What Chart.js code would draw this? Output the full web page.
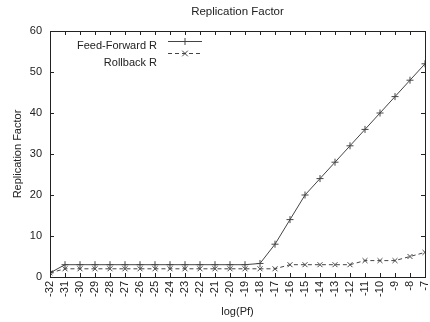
<!DOCTYPE html>
<html>
<head>
<meta charset="utf-8">
<script src="https://cdn.jsdelivr.net/npm/chart.js@4.4.0/dist/chart.umd.min.js"></script>
<style>
  html, body { margin: 0; padding: 0; background: #fff; }
  #wrap { width: 430px; height: 322px; }
</style>
</head>
<body>
<div id="wrap"><canvas id="replicationChart"></canvas></div>
<script>
// values
const logPf = [-32, -31, -30, -29, -28, -27, -26, -25, -24, -23, -22, -21, -20, -19,
               -18, -17, -16, -15, -14, -13, -12, -11, -10, -9, -8, -7];
const feedForwardR = [1, 3, 3, 3, 3, 3, 3, 3, 3, 3, 3, 3, 3, 3,
                      3.3, 8, 14, 20, 24, 28, 32, 36, 40, 44, 48, 52];
const rollbackR = [1, 2, 2, 2, 2, 2, 2, 2, 2, 2, 2, 2, 2, 2,
                   2, 2, 3, 3, 3, 3, 3, 4, 4, 4, 5, 6];
const yTicks = [0, 10, 20, 30, 40, 50, 60];

const FONT = 'Liberation Sans, Arial, Helvetica, sans-serif';
const INK = '#222';
const LINE = '#444';

const toPoints = vals => vals.map((v, i) => ({ x: logPf[i], y: v }));

// gnuplot style frame with inward ticks on all four sides, plus title and key
const framePlugin = {
    id: 'frame',
    afterDraw(chart) {
        const ctx = chart.ctx;
        const { left, right, top, bottom } = chart.chartArea;
        const xs = chart.scales.x, ys = chart.scales.y;
        ctx.save();
        ctx.strokeStyle = INK;
        ctx.lineWidth = 1;
        ctx.beginPath();
        xs.ticks.forEach(t => {
            const px = Math.round(xs.getPixelForValue(t.value)) + 0.5;
            ctx.moveTo(px, bottom); ctx.lineTo(px, bottom - 4);
            ctx.moveTo(px, top); ctx.lineTo(px, top + 4);
        });
        ys.ticks.forEach(t => {
            const py = Math.round(ys.getPixelForValue(t.value)) + 0.5;
            ctx.moveTo(left, py); ctx.lineTo(left + 4, py);
            ctx.moveTo(right, py); ctx.lineTo(right - 4, py);
        });
        ctx.stroke();
        ctx.strokeRect(Math.round(left) + 0.5, Math.round(top) + 0.5,
                       Math.round(right - left), Math.round(bottom - top));

        // title
        ctx.fillStyle = INK;
        ctx.font = '11.5px ' + FONT;
        ctx.textAlign = 'center';
        ctx.textBaseline = 'middle';
        ctx.fillText('Replication Factor', (left + right) / 2, 12);

        // key, top left inside the plot
        ctx.font = '11px ' + FONT;
        const rows = [{ text: 46, line: 41 }, { text: 63, line: 53 }];
        chart.data.datasets.forEach((ds, i) => {
            const r = rows[i];
            ctx.fillStyle = INK;
            ctx.textAlign = 'right';
            ctx.fillText(ds.label, 157, r.text);
            ctx.strokeStyle = LINE;
            ctx.setLineDash(ds.borderDash || []);
            ctx.beginPath();
            ctx.moveTo(168, r.line + 0.5); ctx.lineTo(202, r.line + 0.5);
            ctx.stroke();
            ctx.setLineDash([]);
            const cx = 185, cy = r.line + 0.5, s = 3.5;
            ctx.beginPath();
            if (ds.pointStyle === 'cross') {
                ctx.moveTo(cx - s, cy); ctx.lineTo(cx + s, cy);
                ctx.moveTo(cx, cy - s); ctx.lineTo(cx, cy + s);
            } else {
                ctx.moveTo(cx - s * 0.8, cy - s * 0.8); ctx.lineTo(cx + s * 0.8, cy + s * 0.8);
                ctx.moveTo(cx - s * 0.8, cy + s * 0.8); ctx.lineTo(cx + s * 0.8, cy - s * 0.8);
            }
            ctx.stroke();
        });
        ctx.restore();
    }
};

const ctx = document.getElementById('replicationChart').getContext('2d');

const replicationChart = new Chart(ctx, {
    type: 'line',
    data: {
        datasets: [{
            label: 'Feed-Forward R',
            data: toPoints(feedForwardR),
            borderColor: LINE,
            borderWidth: 1,
            pointStyle: 'cross',
            pointRadius: 3.5,
            pointBorderColor: LINE,
            pointBorderWidth: 1,
            tension: 0
        }, {
            label: 'Rollback R',
            data: toPoints(rollbackR),
            borderColor: LINE,
            borderWidth: 1,
            borderDash: [4, 3],
            pointStyle: 'crossRot',
            pointRadius: 3.5,
            pointBorderColor: LINE,
            pointBorderWidth: 1,
            tension: 0
        }]
    },
    options: {
        responsive: true,
        maintainAspectRatio: false,
        animation: false,
        layout: { padding: { top: 31, right: 3, left: 0, bottom: 0 } },
        plugins: {
            legend: { display: false },
            title: { display: false },
            tooltip: { enabled: false }
        },
        scales: {
            x: {
                type: 'linear',
                min: -32,
                max: -7,
                afterFit: s => { s.height = 45; s.paddingLeft = 0; s.paddingRight = 0; },
                afterBuildTicks: s => { s.ticks = logPf.map(v => ({ value: v })); },
                grid: { display: false, drawTicks: false },
                border: { display: false },
                ticks: {
                    autoSkip: false,
                    minRotation: 90,
                    maxRotation: 90,
                    padding: 4,
                    color: INK,
                    font: { family: FONT, size: 11 },
                    callback: v => String(v)
                },
                title: {
                    display: true,
                    text: 'log(Pf)',
                    color: INK,
                    font: { family: FONT, size: 11 },
                    padding: { top: 0, bottom: 3 }
                }
            },
            y: {
                min: 0,
                max: 60,
                afterFit: s => { s.width = 50; s.paddingTop = 0; s.paddingBottom = 0; },
                afterBuildTicks: s => { s.ticks = yTicks.map(v => ({ value: v })); },
                grid: { display: false, drawTicks: false },
                border: { display: false },
                ticks: {
                    padding: 8,
                    color: INK,
                    font: { family: FONT, size: 11 }
                },
                title: {
                    display: true,
                    text: 'Replication Factor',
                    color: INK,
                    font: { family: FONT, size: 11 },
                    padding: { top: 11, bottom: 0 }
                }
            }
        }
    },
    plugins: [framePlugin]
});
</script>
</body>
</html>
